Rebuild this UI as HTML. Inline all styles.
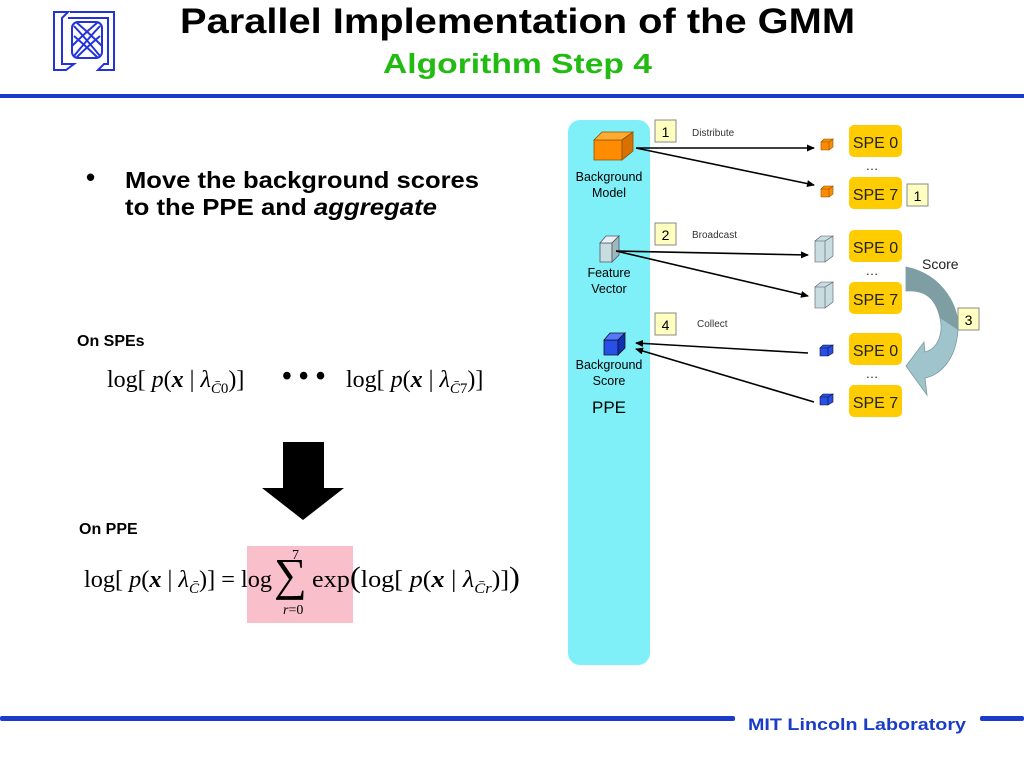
<!DOCTYPE html>
<html><head><meta charset="utf-8"><style>
html,body{margin:0;padding:0;background:#fff;}
svg{display:block;}
</style></head><body>
<svg width="1024" height="768" viewBox="0 0 1024 768" xmlns="http://www.w3.org/2000/svg" font-family="Liberation Sans, sans-serif">
<defs>
<marker id="ah" markerWidth="8" markerHeight="8" refX="7" refY="4" orient="auto" markerUnits="userSpaceOnUse">
<path d="M0,0.5 L8,4 L0,7.5 Z" fill="#000"/></marker>
</defs>
<!-- logo -->
<g fill="none" stroke="#2233dd" stroke-width="2">
<path d="M54,12 L68,12 L62,18 L62,64 L74,64 L66,70 L54,70 Z"/>
<path d="M70,12 L114,12 L114,70 L98,70 L104,64 L108,64 L108,18 L68,18"/>
<rect x="72" y="22" width="30" height="36" rx="6"/>
<path d="M74,26 Q87,40 100,56 M74,36 Q88,48 98,58 M76,22 Q90,34 102,46 M100,26 Q87,40 74,56 M100,36 Q86,48 76,58 M98,22 Q84,34 72,46"/>
</g>
<!-- title -->
<text x="180" y="33" textLength="675" lengthAdjust="spacingAndGlyphs" font-size="35" font-weight="bold" fill="#000">Parallel Implementation of the GMM</text>
<text x="383" y="73" textLength="269" lengthAdjust="spacingAndGlyphs" font-size="28" font-weight="bold" fill="#22bb11">Algorithm Step 4</text>
<rect x="0" y="94" width="1024" height="4" fill="#1a3cc8"/>
<!-- bullet -->
<text x="86" y="186" font-size="26" font-weight="bold">•</text>
<text x="125" y="188" textLength="354" lengthAdjust="spacingAndGlyphs" font-size="23" font-weight="bold">Move the background scores</text>
<text x="125" y="215" textLength="312" lengthAdjust="spacingAndGlyphs" font-size="23" font-weight="bold">to the PPE and <tspan font-style="italic">aggregate</tspan></text>
<text x="77" y="346" font-size="16" font-weight="bold">On SPEs</text>
<g font-family="Liberation Serif, serif" font-size="24">
<text x="107" y="387">log[ <tspan font-style="italic">p</tspan>(<tspan font-weight="bold" font-style="italic">x</tspan> | <tspan font-style="italic">λ</tspan><tspan font-size="15" dy="6" font-style="italic">C̄</tspan><tspan font-size="15">0</tspan><tspan dy="-6">)]</tspan></text>
<text x="282" y="385" font-size="28" font-weight="bold">• • •</text>
<text x="346" y="387">log[ <tspan font-style="italic">p</tspan>(<tspan font-weight="bold" font-style="italic">x</tspan> | <tspan font-style="italic">λ</tspan><tspan font-size="15" dy="6" font-style="italic">C̄</tspan><tspan font-size="15">7</tspan><tspan dy="-6">)]</tspan></text>
</g>
<!-- big down arrow -->
<path d="M283,442 L324,442 L324,488 L344,488 L303,520 L262,488 L283,488 Z" fill="#000"/>
<text x="79" y="534" font-size="16" font-weight="bold">On PPE</text>
<rect x="247" y="546" width="106" height="77" fill="#f9c0cb"/>
<g font-family="Liberation Serif, serif" font-size="24">
<text x="84" y="587" textLength="188" lengthAdjust="spacingAndGlyphs">log[ <tspan font-style="italic">p</tspan>(<tspan font-weight="bold" font-style="italic">x</tspan> | <tspan font-style="italic">λ</tspan><tspan font-size="15" dy="6" font-style="italic">C̄</tspan><tspan dy="-6">)] = log</tspan></text>
<text x="274" y="590" font-size="46">∑</text>
<text x="292" y="559" font-size="14">7</text>
<text x="283" y="614" font-size="14" font-style="italic">r<tspan font-style="normal">=0</tspan></text>
<text x="312" y="587" textLength="208" lengthAdjust="spacingAndGlyphs">exp<tspan font-size="30">(</tspan>log[ <tspan font-style="italic">p</tspan>(<tspan font-weight="bold" font-style="italic">x</tspan> | <tspan font-style="italic">λ</tspan><tspan font-size="15" dy="6" font-style="italic">C̄r</tspan><tspan dy="-6">)]</tspan><tspan font-size="30">)</tspan></text>
</g>
<!-- PPE panel -->
<rect x="568" y="120" width="82" height="545" rx="12" fill="#7ff0f8"/>
<text x="609" y="181" text-anchor="middle" font-size="12.5">Background</text>
<text x="609" y="197" text-anchor="middle" font-size="12.5">Model</text>
<text x="609" y="277" text-anchor="middle" font-size="12.5">Feature</text>
<text x="609" y="293" text-anchor="middle" font-size="12.5">Vector</text>
<text x="609" y="369" text-anchor="middle" font-size="12.5">Background</text>
<text x="609" y="385" text-anchor="middle" font-size="12.5">Score</text>
<text x="609" y="413" text-anchor="middle" font-size="17">PPE</text>
<!-- cubes -->
<g stroke="#885500" stroke-width="0.8">
<path d="M594,140 L622,140 L622,160 L594,160Z" fill="#ff8c00"/>
<path d="M594,140 L602,132 L633,132 L622,140Z" fill="#ffaa33"/>
<path d="M622,140 L633,132 L633,151 L622,160Z" fill="#d97000"/>
</g>
<g stroke="#556" stroke-width="0.8">
<path d="M600,243 L612,243 L612,262 L600,262Z" fill="#c8dde0"/>
<path d="M600,243 L606,236 L619,236 L612,243Z" fill="#e6f2f4"/>
<path d="M612,243 L619,236 L619,255 L612,262Z" fill="#9fb8bc"/>
</g>
<g stroke="#112" stroke-width="0.8">
<path d="M604,340 L618,340 L618,355 L604,355Z" fill="#2850e8"/>
<path d="M604,340 L610,333 L625,333 L618,340Z" fill="#5578ff"/>
<path d="M618,340 L625,333 L625,348 L618,355Z" fill="#1030b0"/>
</g>
<!-- small cubes -->
<g stroke="#885500" stroke-width="0.6">
<path d="M821,142 L829,142 L829,150 L821,150Z M821,142 L824,139 L833,139 L829,142Z M829,142 L833,139 L833,147 L829,150Z" fill="#ff8c00"/>
<path d="M821,189 L829,189 L829,197 L821,197Z M821,189 L824,186 L833,186 L829,189Z M829,189 L833,186 L833,194 L829,197Z" fill="#ff8c00"/>
</g>
<g stroke="#556" stroke-width="0.6" fill="#c8dde0">
<path d="M815,241 L825,241 L825,262 L815,262Z M815,241 L821,236 L833,236 L825,241Z M825,241 L833,236 L833,256 L825,262Z"/>
<path d="M815,287 L825,287 L825,308 L815,308Z M815,287 L821,282 L833,282 L825,287Z M825,287 L833,282 L833,302 L825,308Z"/>
</g>
<g stroke="#112" stroke-width="0.6" fill="#2850e8">
<path d="M820,348 L828,348 L828,356 L820,356Z M820,348 L823,345 L833,345 L828,348Z M828,348 L833,345 L833,353 L828,356Z"/>
<path d="M820,397 L828,397 L828,405 L820,405Z M820,397 L823,394 L833,394 L828,397Z M828,397 L833,394 L833,402 L828,405Z"/>
</g>
<!-- arrows -->
<g stroke="#000" stroke-width="1.6">
<line x1="636" y1="148" x2="814" y2="148" marker-end="url(#ah)"/>
<line x1="636" y1="148" x2="814" y2="185" marker-end="url(#ah)"/>
<line x1="616" y1="251" x2="808" y2="255" marker-end="url(#ah)"/>
<line x1="616" y1="251" x2="808" y2="296" marker-end="url(#ah)"/>
<line x1="808" y1="353" x2="636" y2="343" marker-end="url(#ah)"/>
<line x1="814" y1="402" x2="636" y2="349" marker-end="url(#ah)"/>
</g>
<!-- step labels -->
<g fill="#ffffc0" stroke="#888" stroke-width="1">
<rect x="655" y="120" width="21" height="22"/>
<rect x="907" y="184" width="21" height="22"/>
<rect x="655" y="223" width="21" height="22"/>
<rect x="655" y="313" width="21" height="22"/>
<rect x="958" y="308" width="21" height="22"/>
</g>
<g font-size="14" text-anchor="middle">
<text x="665.5" y="137">1</text><text x="917.5" y="201">1</text>
<text x="665.5" y="240">2</text><text x="665.5" y="330">4</text>
<text x="968.5" y="325">3</text>
</g>
<g font-size="10" fill="#333">
<text x="692" y="136">Distribute</text>
<text x="692" y="238">Broadcast</text>
<text x="697" y="327">Collect</text>
</g>
<!-- SPE boxes -->
<g fill="#ffcc00">
<rect x="849" y="125" width="53" height="32" rx="5"/>
<rect x="849" y="177" width="53" height="32" rx="5"/>
<rect x="849" y="230" width="53" height="32" rx="5"/>
<rect x="849" y="282" width="53" height="32" rx="5"/>
<rect x="849" y="333" width="53" height="32" rx="5"/>
<rect x="849" y="385" width="53" height="32" rx="5"/>
</g>
<g font-size="16" text-anchor="middle" fill="#222">
<text x="875.5" y="148">SPE 0</text><text x="875.5" y="200">SPE 7</text>
<text x="875.5" y="253">SPE 0</text><text x="875.5" y="305">SPE 7</text>
<text x="875.5" y="356">SPE 0</text><text x="875.5" y="408">SPE 7</text>
<text x="872" y="170" font-size="13">…</text>
<text x="872" y="275" font-size="13">…</text>
<text x="872" y="378" font-size="13">…</text>
</g>
<!-- curved score arrow -->
<path d="M906,267 C945,275 960,310 958,330 C956,360 940,375 925,378 L927,395 L906,366 L924,342 L925,352 C940,348 943,330 940,318 C935,295 922,290 906,291 Z" fill="#9fc4cc" stroke="#7a9aa0" stroke-width="0.8"/>
<path d="M906,267 C945,275 960,310 958,330 L940,318 C935,295 922,290 906,291 Z" fill="#7f9ea4"/>
<text x="922" y="269" font-size="14" fill="#222">Score</text>
<!-- footer -->
<rect x="0" y="716" width="735" height="5" rx="2" fill="#1a3cc8"/>
<rect x="980" y="716" width="44" height="5" rx="2" fill="#1a3cc8"/>
<text x="748" y="730" textLength="218" lengthAdjust="spacingAndGlyphs" font-size="17" font-weight="bold" fill="#1a3cc8">MIT Lincoln Laboratory</text>
</svg>
</body></html>
